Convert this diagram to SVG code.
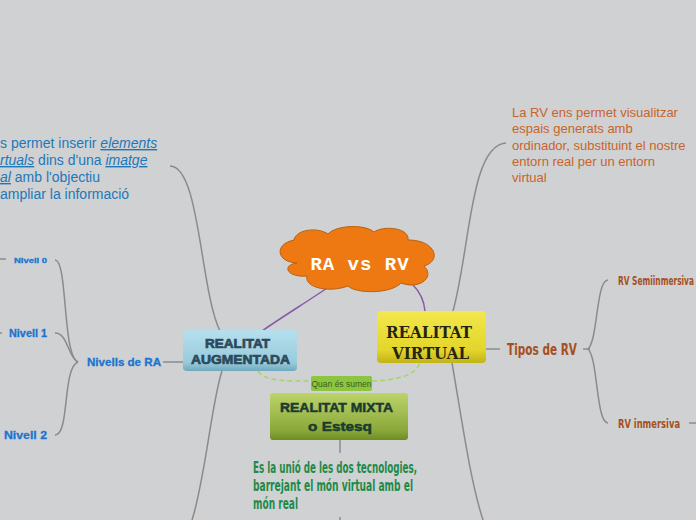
<svg xmlns="http://www.w3.org/2000/svg" width="696" height="520" viewBox="0 0 696 520">
<defs>
<linearGradient id="gRA" x1="0" y1="0" x2="0" y2="1"><stop offset="0" stop-color="#b6e0ee"/><stop offset="0.8" stop-color="#98cadb"/><stop offset="1" stop-color="#6fa9bd"/></linearGradient>
<linearGradient id="gRV" x1="0" y1="0" x2="0" y2="1"><stop offset="0" stop-color="#f2e84c"/><stop offset="0.75" stop-color="#e3d52a"/><stop offset="1" stop-color="#c2b318"/></linearGradient>
<linearGradient id="gMX" x1="0" y1="0" x2="0" y2="1"><stop offset="0" stop-color="#bcd46a"/><stop offset="0.8" stop-color="#8aa83a"/><stop offset="1" stop-color="#6e8c22"/></linearGradient>
</defs>
<style>
.gl{fill:none;stroke:#8b8b8d;stroke-width:1.5}
.pl{fill:none;stroke:#8a5aa8;stroke-width:1.5}
.dl{fill:none;stroke:#a6d468;stroke-width:1.5;stroke-dasharray:5 3}
.blue{font-family:"Liberation Sans",Arial,sans-serif;font-size:14px;fill:#1e78b8}
.org{font-family:"Liberation Sans",Arial,sans-serif;font-size:13px;fill:#c8642a}
.niv{font-family:"Liberation Sans",Arial,sans-serif;font-weight:bold;fill:#1a74d0;stroke:#1a74d0;stroke-width:0.3}
.brn{font-family:"Liberation Sans Narrow","DejaVu Sans Condensed",sans-serif;font-weight:bold;fill:#a5501e}
.grn{font-family:"Liberation Sans Narrow","DejaVu Sans Condensed",sans-serif;font-weight:bold;font-size:15px;fill:#1e8a48}
</style>
<rect width="696" height="520" fill="#d0d1d3"/>
<g id="connectors">
<path class="pl" d="M333,284 C310,300 285,315 262,331"/>
<path class="pl" d="M413,285 C420,292 424,300 425,311"/>
<path class="gl" d="M170,166 C200,166 200,290 220,331"/>
<path class="gl" d="M222,371 C212,400 205,480 192,520"/>
<path class="gl" d="M163,362 H183"/>
<path class="gl" d="M55,260 C68,260 62,355 78,362"/>
<path class="gl" d="M55,333 C68,333 68,358 78,362"/>
<path class="gl" d="M55,435 C70,435 62,368 78,362"/>
<path class="gl" d="M0,259 H6"/>
<path class="gl" d="M0,333 H2"/>
<path class="gl" d="M453,311 C470,250 470,145 506,143"/>
<path class="gl" d="M452,363 C462,420 470,480 483,520"/>
<path class="gl" d="M486,349 H500"/>
<path class="gl" d="M583,349 H590"/>
<path class="gl" d="M608,280 C596,280 598,340 588,349 C598,358 596,423 608,423"/>
<path class="gl" d="M689,423 H696"/>
<path class="gl" d="M340,440 V453"/>
<path class="gl" d="M340,517 V520"/>
<path class="dl" d="M258,371 C265,382 290,381 311,381"/>
<path class="dl" d="M372,381 C400,380 415,375 420,363"/>
</g>
<g id="center">
<path d="M297,263 C276,262 274,244 294,240 C296,229 318,227 328,234 C336,225 365,224 374,232 C384,225 410,228 408,240 C436,240 442,261 424,266 C436,278 418,290 401,283 C391,294 356,294 348,286 C330,293 304,288 307,276 C287,278 281,265 297,263 Z" fill="#ee7912" stroke="#b9610f" stroke-width="1"/>
<text x="360" y="270" text-anchor="middle" font-family="Liberation Mono,monospace" font-weight="bold" font-size="19" fill="#ffffff" letter-spacing="1">RA vs RV</text>
</g>
<g id="ra">
<rect x="183" y="330" width="114" height="41" rx="4" fill="url(#gRA)"/>
<text font-family="Liberation Sans,Arial,sans-serif" font-weight="bold" font-size="13" fill="#2c4a5a" stroke="#2c4a5a" stroke-width="0.7"><tspan x="205" y="348" textLength="65" lengthAdjust="spacingAndGlyphs">REALITAT</tspan><tspan x="191" y="364" textLength="99" lengthAdjust="spacingAndGlyphs">AUGMENTADA</tspan></text>
</g>
<g id="rv">
<rect x="377" y="311" width="109" height="52" rx="4" fill="url(#gRV)"/>
<text font-family="DejaVu Serif,serif" font-weight="bold" font-size="17" fill="#262410"><tspan x="386" y="338" textLength="86" lengthAdjust="spacingAndGlyphs">REALITAT</tspan><tspan x="392" y="359" textLength="77" lengthAdjust="spacingAndGlyphs">VIRTUAL</tspan></text>
</g>
<g id="mixta">
<rect x="270" y="393" width="138" height="47" rx="3" fill="url(#gMX)"/>
<text font-family="Liberation Sans,Arial,sans-serif" font-weight="bold" font-size="13.5" fill="#1b3a30" stroke="#1b3a30" stroke-width="0.5"><tspan x="280" y="412" textLength="113" lengthAdjust="spacingAndGlyphs">REALITAT MIXTA</tspan><tspan x="308" y="431" textLength="64" lengthAdjust="spacingAndGlyphs">o Estesq</tspan></text>
</g>
<g id="quan">
<rect x="311" y="376" width="61" height="15" rx="2" fill="#8cc540"/>
<text x="341.5" y="386.5" text-anchor="middle" font-family="Liberation Sans,Arial,sans-serif" font-size="8.5" fill="#3e5e1a">Quan és sumen</text>
</g>
<g id="ra-desc">
<text class="blue"><tspan x="0" y="148">s permet inserir </tspan><tspan font-style="italic" text-decoration="underline">elements </tspan></text>
<text class="blue"><tspan x="0" y="165" font-style="italic" text-decoration="underline">rtuals</tspan><tspan> dins d'una </tspan><tspan font-style="italic" text-decoration="underline">imatge </tspan></text>
<text class="blue"><tspan x="0" y="182" font-style="italic" text-decoration="underline">al</tspan><tspan> amb l'objectiu</tspan></text>
<text class="blue" x="0" y="199">ampliar la informació</text>
</g>
<g id="nivells">
<text class="niv" x="87" y="366" font-size="11" textLength="74" lengthAdjust="spacingAndGlyphs">Nivells de RA</text>
</g>
<g id="n0"><text class="niv" x="14" y="263" font-size="8" textLength="33" lengthAdjust="spacingAndGlyphs">Nivell 0</text></g>
<g id="n1"><text class="niv" x="9" y="337" font-size="10" textLength="38" lengthAdjust="spacingAndGlyphs">Nivell 1</text></g>
<g id="n2"><text class="niv" x="4" y="439" font-size="11.5" textLength="43" lengthAdjust="spacingAndGlyphs">Nivell 2</text></g>
<g id="rv-desc">
<text class="org" x="512" y="117">La RV ens permet visualitzar</text>
<text class="org" x="512" y="133">espais generats amb</text>
<text class="org" x="512" y="149.5">ordinador, substituint el nostre</text>
<text class="org" x="512" y="166">entorn real per un entorn</text>
<text class="org" x="512" y="182">virtual</text>
</g>
<g id="tipos"><text class="brn" x="507" y="355" font-size="16.5" textLength="70" lengthAdjust="spacingAndGlyphs">Tipos de RV</text></g>
<g id="semi"><text class="brn" transform="translate(618,285) scale(0.65,1)" x="0" y="0" font-size="12.5" textLength="116.9" lengthAdjust="spacingAndGlyphs">RV Semiinmersiva</text></g>
<g id="inm"><text class="brn" transform="translate(618,427.5) scale(0.7,1)" x="0" y="0" font-size="12.5" textLength="88.6" lengthAdjust="spacingAndGlyphs">RV inmersiva</text></g>
<g id="mixta-desc">
<text class="grn" x="253" y="473" textLength="164" lengthAdjust="spacingAndGlyphs">Es la unió de les dos tecnologies,</text>
<text class="grn" x="253" y="491" textLength="160" lengthAdjust="spacingAndGlyphs">barrejant el món virtual amb el</text>
<text class="grn" x="253" y="509" textLength="45" lengthAdjust="spacingAndGlyphs">món real</text>
</g>
</svg>
